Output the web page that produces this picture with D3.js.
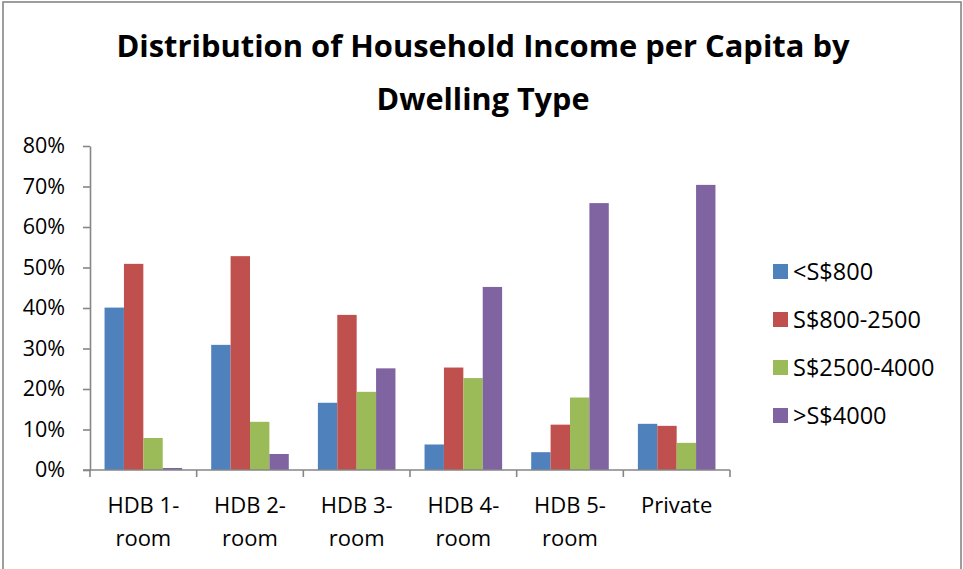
<!DOCTYPE html>
<html>
<head>
<meta charset="utf-8">
<script src="https://cdn.jsdelivr.net/npm/d3@7"></script>
<style>
  body { margin: 0; background: #fff; }
  text { font-family: "Open Sans", sans-serif; fill: #000; }
</style>
</head>
<body>
<div id="chart"></div>
<script>
// data (percent)
var categories = ["HDB 1-room", "HDB 2-room", "HDB 3-room", "HDB 4-room", "HDB 5-room", "Private"];
var categoryLines = [["HDB 1-", "room"], ["HDB 2-", "room"], ["HDB 3-", "room"], ["HDB 4-", "room"], ["HDB 5-", "room"], ["Private"]];
var seriesNames = ["<S$800", "S$800-2500", "S$2500-4000", ">S$4000"];
var seriesColors = ["#4F81BD", "#C0504D", "#9BBB59", "#8064A2"];
var below800 = [40.1, 30.9, 16.6, 6.3, 4.4, 11.4];
var from800to2500 = [50.9, 52.8, 38.3, 25.3, 11.2, 10.9];
var from2500to4000 = [7.9, 11.9, 19.3, 22.7, 17.9, 6.7];
var above4000 = [0.5, 3.95, 25.1, 45.2, 65.9, 70.4];
var yTicks = [0, 10, 20, 30, 40, 50, 60, 70, 80];

var seriesValues = [below800, from800to2500, from2500to4000, above4000];

var width = 963, height = 569;
var plot = {left: 90, right: 730, top: 146, bottom: 470};
var axisColor = "#868686";

var svg = d3.select("#chart")
  .append("svg")
    .attr("width", width)
    .attr("height", height);

// chart frame
svg.append("rect")
  .attr("x", 3)
  .attr("y", 2)
  .attr("width", 958)
  .attr("height", 620)
  .attr("fill", "#fff")
  .attr("stroke", axisColor)
  .attr("stroke-width", 1.6);

// title
var titleLines = [["Distribution of Household Income per Capita by", 57, 733], ["Dwelling Type", 110, 213]];
svg.selectAll(".title")
  .data(titleLines)
  .enter()
  .append("text")
    .attr("class", "title")
    .attr("x", 483)
    .attr("y", function(d){ return d[1]; })
    .attr("text-anchor", "middle")
    .attr("font-size", "31px")
    .attr("font-weight", "bold")
    .attr("textLength", function(d){ return d[2]; })
    .attr("lengthAdjust", "spacingAndGlyphs")
    .text(function(d){ return d[0]; });

var x = d3.scaleBand()
  .domain(categories)
  .range([plot.left, plot.right])
  .padding(0);

// excel gap width 150%: bar = band / (4 + 1.5)
var barW = x.bandwidth() / 5.5;
var xInner = d3.scaleBand()
  .domain(d3.range(seriesNames.length))
  .range([barW * 0.75, x.bandwidth() - barW * 0.75])
  .padding(0);

var y = d3.scaleLinear()
  .domain([0, 80])
  .range([plot.bottom, plot.top]);

// bars
var rows = [];
seriesValues.forEach(function(vals, s){
  vals.forEach(function(v, i){
    rows.push({cat: categories[i], s: s, v: v});
  });
});

svg.selectAll(".bar")
  .data(rows)
  .enter()
  .append("rect")
    .attr("class", "bar")
    .attr("x", function(d){ return x(d.cat) + xInner(d.s); })
    .attr("y", function(d){ return y(d.v); })
    .attr("width", xInner.bandwidth())
    .attr("height", function(d){ return y(0) - y(d.v); })
    .attr("fill", function(d){ return seriesColors[d.s]; });

// y axis
var yAxis = svg.append("g")
  .attr("transform", "translate(" + plot.left + ",0)")
  .call(d3.axisLeft(y)
    .tickValues(yTicks)
    .tickSize(7)
    .tickSizeOuter(0)
    .tickPadding(18)
    .tickFormat(function(d){ return d + "%"; }));
yAxis.selectAll("path, line").attr("stroke", axisColor).attr("stroke-width", 1.6);
yAxis.selectAll("text")
  .attr("font-family", "Open Sans, sans-serif")
  .attr("font-size", "21.5px")
  .attr("fill", "#000");

// x axis: line with ticks on category boundaries
var xAxis = svg.append("g").attr("class", "x-axis");
xAxis.append("line")
  .attr("x1", plot.left - 7)
  .attr("x2", plot.right)
  .attr("y1", y(0))
  .attr("y2", y(0))
  .attr("stroke", axisColor)
  .attr("stroke-width", 1.6);

var bounds = categories.map(function(c){ return x(c); }).concat([x(categories[categories.length - 1]) + x.bandwidth()]);
xAxis.selectAll(".xtick")
  .data(bounds)
  .enter()
  .append("line")
    .attr("class", "xtick")
    .attr("x1", function(d){ return d; })
    .attr("x2", function(d){ return d; })
    .attr("y1", y(0))
    .attr("y2", y(0) + 7)
    .attr("stroke", axisColor)
    .attr("stroke-width", 1.6);

var xLabels = xAxis.selectAll(".xlabel")
  .data(categories)
  .enter()
  .append("text")
    .attr("class", "xlabel")
    .attr("text-anchor", "middle")
    .attr("font-size", "22px");

xLabels.selectAll("tspan")
  .data(function(d, i){ return categoryLines[i].map(function(l){ return {cat: d, line: l}; }); })
  .enter()
  .append("tspan")
    .attr("x", function(d){ return x(d.cat) + x.bandwidth() / 2; })
    .attr("y", function(d, j){ return 513 + j * 33; })
    .text(function(d){ return d.line; });

// legend
var legend = svg.selectAll(".legend")
  .data(seriesNames)
  .enter()
  .append("g")
    .attr("class", "legend")
    .attr("transform", function(d, i){ return "translate(773," + (271.5 + i * 48) + ")"; });

legend.append("rect")
  .attr("x", 0)
  .attr("y", -7.5)
  .attr("width", 15)
  .attr("height", 15)
  .attr("fill", function(d, i){ return seriesColors[i]; });

legend.append("text")
  .attr("x", 20)
  .attr("y", 8)
  .attr("font-size", "23.5px")
  .text(function(d){ return d; });
</script>
</body>
</html>
